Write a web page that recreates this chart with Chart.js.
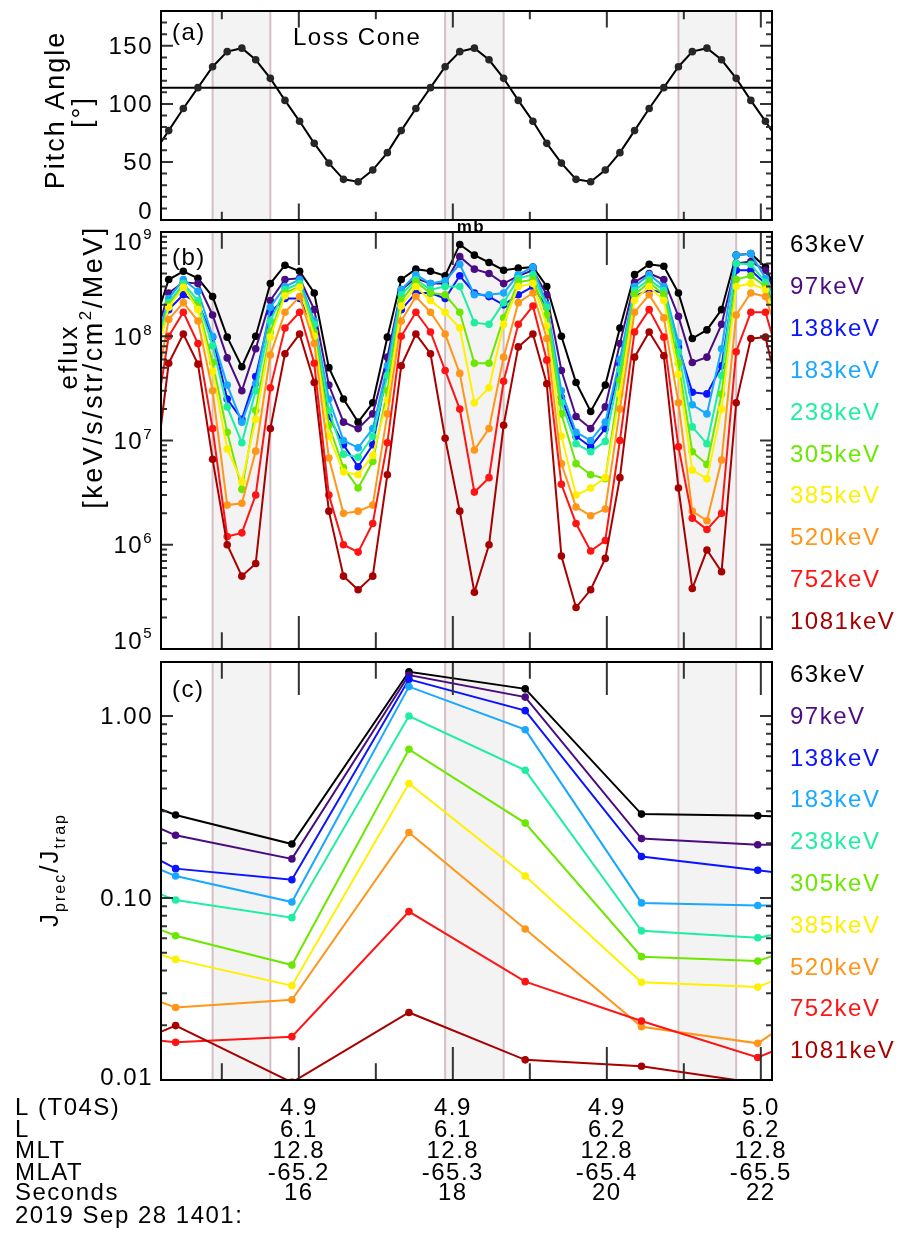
<!DOCTYPE html>
<html>
<head>
<meta charset="utf-8">
<script src="https://cdn.jsdelivr.net/npm/chart.js@4.4.0/dist/chart.umd.min.js"></script>
<style>
  html, body { margin: 0; padding: 0; background: #fff; }
  #wrap { position: relative; width: 908px; height: 1237px; overflow: hidden; }
  #wrap canvas { position: absolute; left: 0; top: 0; }
</style>
</head>
<body>
<div id="wrap">
  <canvas id="chartA" width="908" height="1237"></canvas>
  <canvas id="chartB" width="908" height="1237"></canvas>
  <canvas id="chartC" width="908" height="1237"></canvas>
</div>
<script>
// sample times (seconds after 14:01) of the 16-per-spin pitch angle samples
const sampleTimes = [14.12, 14.31, 14.50, 14.69, 14.88, 15.07, 15.26, 15.44, 15.63, 15.82, 16.01,
  16.20, 16.39, 16.58, 16.77, 16.96, 17.15, 17.33, 17.52, 17.71, 17.90, 18.09, 18.28, 18.47,
  18.66, 18.85, 19.04, 19.22, 19.41, 19.60, 19.79, 19.98, 20.17, 20.36, 20.55, 20.74, 20.93,
  21.11, 21.30, 21.49, 21.68, 21.87, 22.06, 22.25];

// panel (a): pitch angle (deg)
const pitchAngle = [58, 77, 96, 114, 132, 145, 148, 138, 122, 103, 85, 66, 49, 35, 33, 43,
  58, 77, 96, 114, 132, 145, 148, 138, 122, 103, 85, 66, 49, 35, 33, 43,
  58, 77, 96, 114, 132, 145, 148, 138, 122, 103, 85, 66];
const lossConeAngle = 114;

// loss cone intervals (shaded)
const lossConeStart = [14.88, 17.90, 20.93];
const lossConeEnd = [15.63, 18.66, 21.68];

// panel (b): eflux per energy channel
const eflux63 = [1.3e8, 3.5e8, 4.2e8, 3.6e8, 2.4e8, 9.8e7, 5.1e7, 1.0e8, 3.2e8, 4.8e8, 4.2e8, 2.6e8, 5.0e7, 2.5e7, 1.5e7, 2.3e7, 9.8e7, 3.5e8, 4.4e8, 4.2e8, 3.8e8, 7.6e8, 6.0e8, 5.1e8, 4.3e8, 4.5e8, 4.6e8, 3.0e8, 1.0e8, 3.6e7, 1.9e7, 3.4e7, 1.2e8, 3.9e8, 4.9e8, 4.7e8, 2.6e8, 9.5e7, 1.15e8, 1.8e8, 6.0e8, 6.2e8, 4.6e8, 2.2e8];
const eflux97 = [8.9e7, 2.6e8, 3.3e8, 3.2e8, 1.6e8, 6.2e7, 3.0e7, 7.6e7, 2.2e8, 3.5e8, 3.6e8, 1.8e8, 3.4e7, 1.5e7, 1.3e7, 1.8e7, 6.3e7, 2.8e8, 3.6e8, 3.2e8, 3.2e8, 5.8e8, 4.4e8, 4.0e8, 3.2e8, 3.8e8, 4.3e8, 2.5e8, 4.7e7, 1.7e7, 1.3e7, 2.1e7, 8.5e7, 3.3e8, 4.0e8, 3.5e8, 1.55e8, 5.6e7, 6.3e7, 1.3e8, 5.0e8, 5.2e8, 4.3e8, 2.0e8];
const eflux138 = [6.3e7, 1.8e8, 2.5e8, 2.1e8, 9.8e7, 2.5e7, 1.6e7, 4.1e7, 1.7e8, 2.3e8, 2.3e8, 1.2e8, 1.7e7, 9.1e6, 5.6e6, 9.1e6, 4.7e7, 1.8e8, 2.6e8, 2.6e8, 2.3e8, 3.8e8, 2.6e8, 2.4e8, 2.0e8, 2.5e8, 3.0e8, 1.9e8, 2.6e7, 1.1e7, 8.7e6, 1.3e7, 5.4e7, 2.4e8, 2.8e8, 2.6e8, 7.9e7, 2.9e7, 2.8e7, 5.2e7, 4.3e8, 4.3e8, 3.2e8, 1.4e8];
const eflux183 = [7.1e7, 2.3e8, 3.5e8, 2.7e8, 1.0e8, 3.4e7, 1.5e7, 3.5e7, 1.9e8, 3.0e8, 3.5e8, 1.4e8, 2.5e7, 1.0e7, 8.5e6, 1.3e7, 5.2e7, 2.8e8, 3.9e8, 3.2e8, 3.4e8, 4.9e8, 2.5e8, 2.5e8, 2.6e8, 3.9e8, 4.6e8, 2.0e8, 3.0e7, 1.2e7, 1.0e7, 1.5e7, 6.0e7, 3.0e8, 3.9e8, 3.0e8, 8.7e7, 2.2e7, 1.8e7, 7.6e7, 6.0e8, 6.2e8, 3.6e8, 1.8e8];
const eflux238 = [6.3e7, 2.1e8, 3.2e8, 2.2e8, 8.1e7, 2.1e7, 9.5e6, 3.0e7, 1.4e8, 2.8e8, 3.2e8, 1.3e8, 1.95e7, 7.4e6, 6.9e6, 1.1e7, 4.2e7, 2.5e8, 3.5e8, 2.8e8, 3.0e8, 3.0e8, 1.35e8, 1.3e8, 2.1e8, 3.6e8, 3.9e8, 1.9e8, 2.3e7, 9.3e6, 7.8e6, 9.8e6, 4.8e7, 2.75e8, 3.5e8, 2.75e8, 7.1e7, 1.35e7, 9.3e6, 4.2e7, 5.0e8, 4.9e8, 3.3e8, 1.6e8];
const eflux305 = [5.6e7, 2.0e8, 3.0e8, 1.95e8, 5.6e7, 1.2e7, 3.4e6, 1.95e7, 1.1e8, 2.6e8, 3.0e8, 1.1e8, 1.4e7, 5.5e6, 3.5e6, 6.3e6, 3.0e7, 2.2e8, 3.3e8, 2.6e8, 2.5e8, 1.7e8, 5.5e7, 5.5e7, 1.5e8, 3.3e8, 3.5e8, 1.6e8, 1.8e7, 6.0e6, 4.7e6, 4.3e6, 3.8e7, 2.5e8, 3.3e8, 2.5e8, 5.5e7, 7.8e6, 5.9e6, 2.8e7, 3.5e8, 3.8e8, 3.0e8, 1.3e8];
const eflux385 = [5.0e7, 1.9e8, 2.95e8, 1.8e8, 4.6e7, 8.3e6, 4.0e6, 1.6e7, 9.8e7, 2.45e8, 2.95e8, 1.0e8, 1.1e7, 5.0e6, 4.7e6, 7.2e6, 2.45e7, 1.95e8, 3.0e8, 2.2e8, 1.7e8, 1.2e8, 2.3e7, 3.2e7, 1.3e8, 3.0e8, 3.2e8, 1.26e8, 1.1e7, 3.0e6, 3.5e6, 4.4e6, 2.8e7, 2.2e8, 3.0e8, 2.2e8, 4.3e7, 5.2e6, 4.3e6, 2.0e7, 3.0e8, 3.2e8, 2.8e8, 1.1e8];
const eflux520 = [2.5e7, 1.45e8, 2.1e8, 1.4e8, 3.0e7, 2.4e6, 2.5e6, 7.9e6, 6.6e7, 1.7e8, 2.4e8, 8.5e7, 6.8e6, 2.0e6, 2.1e6, 2.4e6, 1.8e7, 1.4e8, 2.4e8, 1.7e8, 1.05e8, 4.4e7, 8.1e6, 1.3e7, 6.3e7, 2.1e8, 2.6e8, 9.5e7, 6.0e6, 2.3e6, 1.9e6, 2.2e6, 2.0e7, 1.7e8, 2.5e8, 1.5e8, 2.3e7, 2.1e6, 1.7e6, 6.5e6, 1.6e8, 2.6e8, 2.4e8, 8.9e7];
const eflux752 = [1.3e7, 1.0e8, 1.7e8, 8.5e7, 1.3e7, 1.2e6, 1.3e6, 3.0e6, 3.2e7, 1.2e8, 1.7e8, 5.5e7, 3.0e6, 1.0e6, 8.5e5, 1.6e6, 9.5e6, 1.0e8, 1.7e8, 1.1e8, 4.7e7, 2.0e7, 3.2e6, 4.4e6, 3.7e7, 1.3e8, 1.95e8, 5.9e7, 3.8e6, 1.6e6, 8.7e5, 1.1e6, 1.0e7, 1.1e8, 1.8e8, 9.8e7, 8.7e6, 1.8e6, 1.4e6, 2.0e6, 7.1e7, 1.7e8, 1.7e8, 5.6e7];
const eflux1081 = [4.0e6, 5.5e7, 1.05e8, 5.4e7, 6.6e6, 1.0e6, 5.0e5, 6.6e5, 1.3e7, 6.8e7, 1.05e8, 3.6e7, 2.1e6, 5.0e5, 3.7e5, 5.0e5, 4.7e6, 5.2e7, 1.05e8, 6.8e7, 1.05e7, 2.1e6, 3.5e5, 1.0e6, 1.4e7, 7.9e7, 1.05e8, 3.5e7, 7.8e5, 2.5e5, 3.7e5, 7.4e5, 4.4e6, 6.3e7, 1.1e8, 6.5e7, 3.5e6, 3.8e5, 8.9e5, 5.5e5, 2.3e7, 9.5e7, 9.8e7, 2.5e7];

// panel (c): precipitating / trapped ratio, one value per half spin
const ratioTimes = [12.89, 14.40, 15.91, 17.43, 18.94, 20.45, 21.96, 23.47];
const ratio63 = [0.50, 0.286, 0.198, 1.75, 1.41, 0.289, 0.283, 0.266];
const ratio97 = [0.42, 0.221, 0.164, 1.68, 1.27, 0.212, 0.196, 0.196];
const ratio138 = [0.314, 0.145, 0.126, 1.59, 1.07, 0.169, 0.142, 0.119];
const ratio183 = [0.245, 0.132, 0.095, 1.45, 0.841, 0.094, 0.091, 0.091];
const ratio238 = [0.169, 0.0975, 0.078, 1.00, 0.503, 0.066, 0.0605, 0.080];
const ratio305 = [0.111, 0.062, 0.0428, 0.656, 0.258, 0.0476, 0.045, 0.076];
const ratio385 = [0.072, 0.046, 0.033, 0.426, 0.132, 0.0344, 0.0324, 0.059];
const ratio520 = [0.0434, 0.025, 0.0276, 0.229, 0.0675, 0.0196, 0.0159, 0.043];
const ratio752 = [0.019, 0.0161, 0.0173, 0.0842, 0.0347, 0.0211, 0.0133, 0.0245];
const ratio1081 = [0.0107, 0.0199, 0.0097, 0.0235, 0.0129, 0.0119, 0.0096, 0.009];

const energyLabels = ['63keV', '97keV', '138keV', '183keV', '238keV', '305keV', '385keV', '520keV', '752keV', '1081keV'];
const energyColors = ['#000000', '#4b0c82', '#0a14ff', '#18a8ff', '#1eeea2', '#6ce800', '#fff000', '#ff961a', '#ff1414', '#a80000'];
const efluxSeries = [eflux63, eflux97, eflux138, eflux183, eflux238, eflux305, eflux385, eflux520, eflux752, eflux1081];
const ratioSeries = [ratio63, ratio97, ratio138, ratio183, ratio238, ratio305, ratio385, ratio520, ratio752, ratio1081];

// axis ticks
const secondTicks = [15, 16, 17, 18, 19, 20, 21, 22];
const secondLabels = [16, 18, 20, 22];
const pitchTicks = [0, 50, 100, 150];
const fluxTicks = [1e5, 1e6, 1e7, 1e8, 1e9];
const fluxTickExp = ['5', '6', '7', '8', '9'];
const ratioTicks = [0.01, 0.1, 1];
const ratioTickLabels = ['0.01', '0.10', '1.00'];

// ephemeris rows under the seconds ticks
const lT04S = ['4.9', '4.9', '4.9', '5.0'];
const lDipole = ['6.1', '6.1', '6.2', '6.2'];
const mlt = ['12.8', '12.8', '12.8', '12.8'];
const mlat = ['-65.2', '-65.3', '-65.4', '-65.5'];

const FONT = '"Liberation Sans", Arial, Helvetica, sans-serif';
const X_MIN = 14.21, X_MAX = 22.145;

function setFont(ctx, size, weight, spacing) {
  ctx.font = (weight ? weight + ' ' : '') + size + 'px ' + FONT;
  ctx.letterSpacing = (spacing == null ? 1.5 : spacing) + 'px';
}

function text(ctx, s, x, y, size, align, color, weight) {
  setFont(ctx, size, weight);
  ctx.textAlign = align;
  ctx.textBaseline = 'alphabetic';
  ctx.fillStyle = color || '#000';
  ctx.fillText(s, x, y);
}

// text runs with super/subscripts, centred on (x,y) baseline, optionally rotated
function runs(ctx, parts, x, y, size, rot, align, spacing) {
  ctx.save();
  ctx.translate(x, y);
  ctx.rotate(rot || 0);
  ctx.textBaseline = 'alphabetic';
  ctx.textAlign = 'left';
  ctx.fillStyle = '#000';
  const sz = p => (p[1] === 'n' ? size : Math.round(size * 0.62));
  let w = 0;
  parts.forEach(p => { setFont(ctx, sz(p), '', spacing); w += ctx.measureText(p[0]).width; });
  let cx = align === 'right' ? -w : -w / 2;
  parts.forEach(p => {
    setFont(ctx, sz(p), '', spacing);
    const dy = p[1] === 'sup' ? -size * 0.42 : p[1] === 'sub' ? size * 0.25 : 0;
    ctx.fillText(p[0], cx, dy);
    cx += ctx.measureText(p[0]).width;
  });
  ctx.restore();
}

function shade(chart) {
  const { ctx, chartArea: a, scales: { x } } = chart;
  ctx.save();
  ctx.beginPath();
  ctx.rect(a.left, a.top, a.right - a.left, a.bottom - a.top);
  ctx.clip();
  lossConeStart.forEach((t0, i) => {
    const x0 = x.getPixelForValue(t0);
    const x1 = x.getPixelForValue(lossConeEnd[i]);
    ctx.fillStyle = '#f3f3f3';
    ctx.fillRect(x0, a.top, x1 - x0, a.bottom - a.top);
    ctx.strokeStyle = '#d4bfc5';
    ctx.lineWidth = 2;
    [x0, x1].forEach(v => {
      ctx.beginPath();
      ctx.moveTo(v, a.top);
      ctx.lineTo(v, a.bottom);
      ctx.stroke();
    });
  });
  ctx.restore();
}

function logTicks(lo, hi) {
  const out = [];
  for (let d = Math.floor(Math.log10(lo)); d <= Math.ceil(Math.log10(hi)); d++) {
    for (let m = 1; m < 10; m++) {
      const v = m * Math.pow(10, d);
      if (v >= lo * 0.999 && v <= hi) out.push({ v: v, major: m === 1 });
    }
  }
  return out;
}

function frame(chart, yTicks) {
  const { ctx, chartArea: a, scales: { x, y } } = chart;
  const h = a.bottom - a.top;
  ctx.save();
  ctx.strokeStyle = '#333';
  ctx.lineWidth = 2;
  ctx.beginPath();
  secondTicks.forEach(s => {
    const px = x.getPixelForValue(s);
    const len = secondLabels.includes(s) ? h * 0.079 : h * 0.04;
    ctx.moveTo(px, a.bottom); ctx.lineTo(px, a.bottom - len);
    ctx.moveTo(px, a.top); ctx.lineTo(px, a.top + len);
  });
  yTicks.forEach(t => {
    const py = y.getPixelForValue(t.v);
    if (py < a.top + 1 || py > a.bottom - 1) return;
    const len = t.major ? 12 : 6;
    ctx.moveTo(a.left, py); ctx.lineTo(a.left + len, py);
    ctx.moveTo(a.right, py); ctx.lineTo(a.right - len, py);
  });
  ctx.stroke();
  ctx.strokeStyle = '#000';
  ctx.strokeRect(a.left, a.top, a.right - a.left, a.bottom - a.top);
  ctx.restore();
}

function legend(ctx, firstBaseline, step) {
  energyLabels.forEach((lab, k) => {
    text(ctx, lab, 790, firstBaseline + step * k, 24, 'left', energyColors[k]);
  });
}

function baseOptions(pad, yScale) {
  return {
    responsive: false,
    animation: false,
    events: [],
    layout: { padding: pad },
    plugins: { legend: { display: false }, tooltip: { enabled: false } },
    scales: {
      x: { type: 'linear', min: X_MIN, max: X_MAX, display: false },
      y: Object.assign({ display: false }, yScale)
    }
  };
}

// ---------- panel (a) ----------
new Chart(document.getElementById('chartA'), {
  type: 'line',
  data: {
    datasets: [
      {
        data: sampleTimes.map((t, i) => ({ x: t, y: pitchAngle[i] })),
        borderColor: '#000', borderWidth: 2, tension: 0,
        pointRadius: 3.8, pointBackgroundColor: '#262626', pointBorderWidth: 0, clip: 0
      },
      {
        data: [{ x: X_MIN - 1, y: lossConeAngle }, { x: X_MAX + 1, y: lossConeAngle }],
        borderColor: '#000', borderWidth: 2, pointRadius: 0, clip: 0
      }
    ]
  },
  options: baseOptions({ left: 161, right: 136, top: 11, bottom: 1017 }, { type: 'linear', min: 0, max: 180 }),
  plugins: [{
    id: 'decorA',
    beforeDatasetsDraw: shade,
    afterDraw(chart) {
      const { ctx, chartArea: a, scales: { y } } = chart;
      const ticks = [];
      for (let v = 10; v < 180; v += 10) ticks.push({ v: v, major: v % 50 === 0 });
      frame(chart, ticks);
      pitchTicks.forEach((v, i) => {
        const py = Math.min(y.getPixelForValue(v), a.bottom - 10);
        text(ctx, String(v), 153, py + 8.5, 24, 'right');
      });
      text(ctx, '(a)', 172, 40, 24, 'left');
      text(ctx, 'Loss Cone', 293, 45, 24, 'left');
      runs(ctx, [['Pitch Angle', 'n']], 64, 110, 27, -Math.PI / 2, 'center', 2);
      runs(ctx, [['[°]', 'n']], 91, 112, 27, -Math.PI / 2, 'center', 2);
      text(ctx, 'mb', 471, 232, 17, 'center', '#000', 'bold');
    }
  }]
});

// ---------- panel (b) ----------
new Chart(document.getElementById('chartB'), {
  type: 'line',
  data: {
    datasets: efluxSeries.map((s, k) => ({
      label: energyLabels[k],
      data: sampleTimes.map((t, i) => ({ x: t, y: s[i] })),
      borderColor: energyColors[k], borderWidth: 2, tension: 0,
      pointRadius: 3.8, pointBackgroundColor: energyColors[k], pointBorderWidth: 0,
      clip: 0, order: 10 - k
    }))
  },
  options: baseOptions({ left: 161, right: 136, top: 232, bottom: 588 }, { type: 'logarithmic', min: 1e5, max: 1e9 }),
  plugins: [{
    id: 'decorB',
    beforeDatasetsDraw: shade,
    afterDraw(chart) {
      const { ctx, chartArea: a, scales: { y } } = chart;
      frame(chart, logTicks(1e5, 1e9));
      fluxTicks.forEach((v, i) => {
        let py = y.getPixelForValue(v);
        py = Math.max(a.top + 9, Math.min(py, a.bottom - 9));
        runs(ctx, [['10', 'n'], [fluxTickExp[i], 'sup']], 153, py + 8.5, 24, 0, 'right');
      });
      text(ctx, '(b)', 172, 265, 24, 'left');
      runs(ctx, [['eflux', 'n']], 77, 357, 26, -Math.PI / 2, 'center', 2);
      runs(ctx, [['[keV/s/str/cm', 'n'], ['2', 'sup'], ['/MeV]', 'n']], 102, 367, 27, -Math.PI / 2, 'center', 2.5);
      legend(ctx, 252, 41.9);
    }
  }]
});

// ---------- panel (c) ----------
new Chart(document.getElementById('chartC'), {
  type: 'line',
  data: {
    datasets: ratioSeries.map((s, k) => ({
      label: energyLabels[k],
      data: ratioTimes.map((t, i) => ({ x: t, y: s[i] })),
      borderColor: energyColors[k], borderWidth: 2, tension: 0,
      pointRadius: 3.8, pointBackgroundColor: energyColors[k], pointBorderWidth: 0,
      clip: 0, order: 10 - k
    }))
  },
  options: baseOptions({ left: 161, right: 136, top: 662, bottom: 157 }, { type: 'logarithmic', min: 0.01, max: 1.98 }),
  plugins: [{
    id: 'decorC',
    beforeDatasetsDraw: shade,
    afterDraw(chart) {
      const { ctx, chartArea: a, scales: { x, y } } = chart;
      frame(chart, logTicks(0.01, 1.98));
      ratioTicks.forEach((v, i) => {
        const py = Math.min(y.getPixelForValue(v), a.bottom - 4);
        text(ctx, ratioTickLabels[i], 153, py + 8.5, 24, 'right');
      });
      text(ctx, '(c)', 172, 697, 24, 'left');
      runs(ctx, [['J', 'n'], ['prec', 'sub'], ['/J', 'n'], ['trap', 'sub']], 58, 870, 26, -Math.PI / 2, 'center', 2);
      legend(ctx, 682, 41.8);

      // ephemeris block
      const rows = [['L (T04S)', lT04S], ['L', lDipole], ['MLT', mlt], ['MLAT', mlat],
        ['Seconds', secondLabels.map(String)]];
      const base = [1115, 1137, 1158, 1180, 1200];
      rows.forEach((r, j) => {
        text(ctx, r[0], 15, base[j], 24, 'left');
        r[1].forEach((val, c) => {
          text(ctx, val, x.getPixelForValue(secondLabels[c]), base[j], 24, 'center');
        });
      });
      text(ctx, '2019 Sep 28 1401:', 15, 1223, 24, 'left');
    }
  }]
});
</script>
</body>
</html>
